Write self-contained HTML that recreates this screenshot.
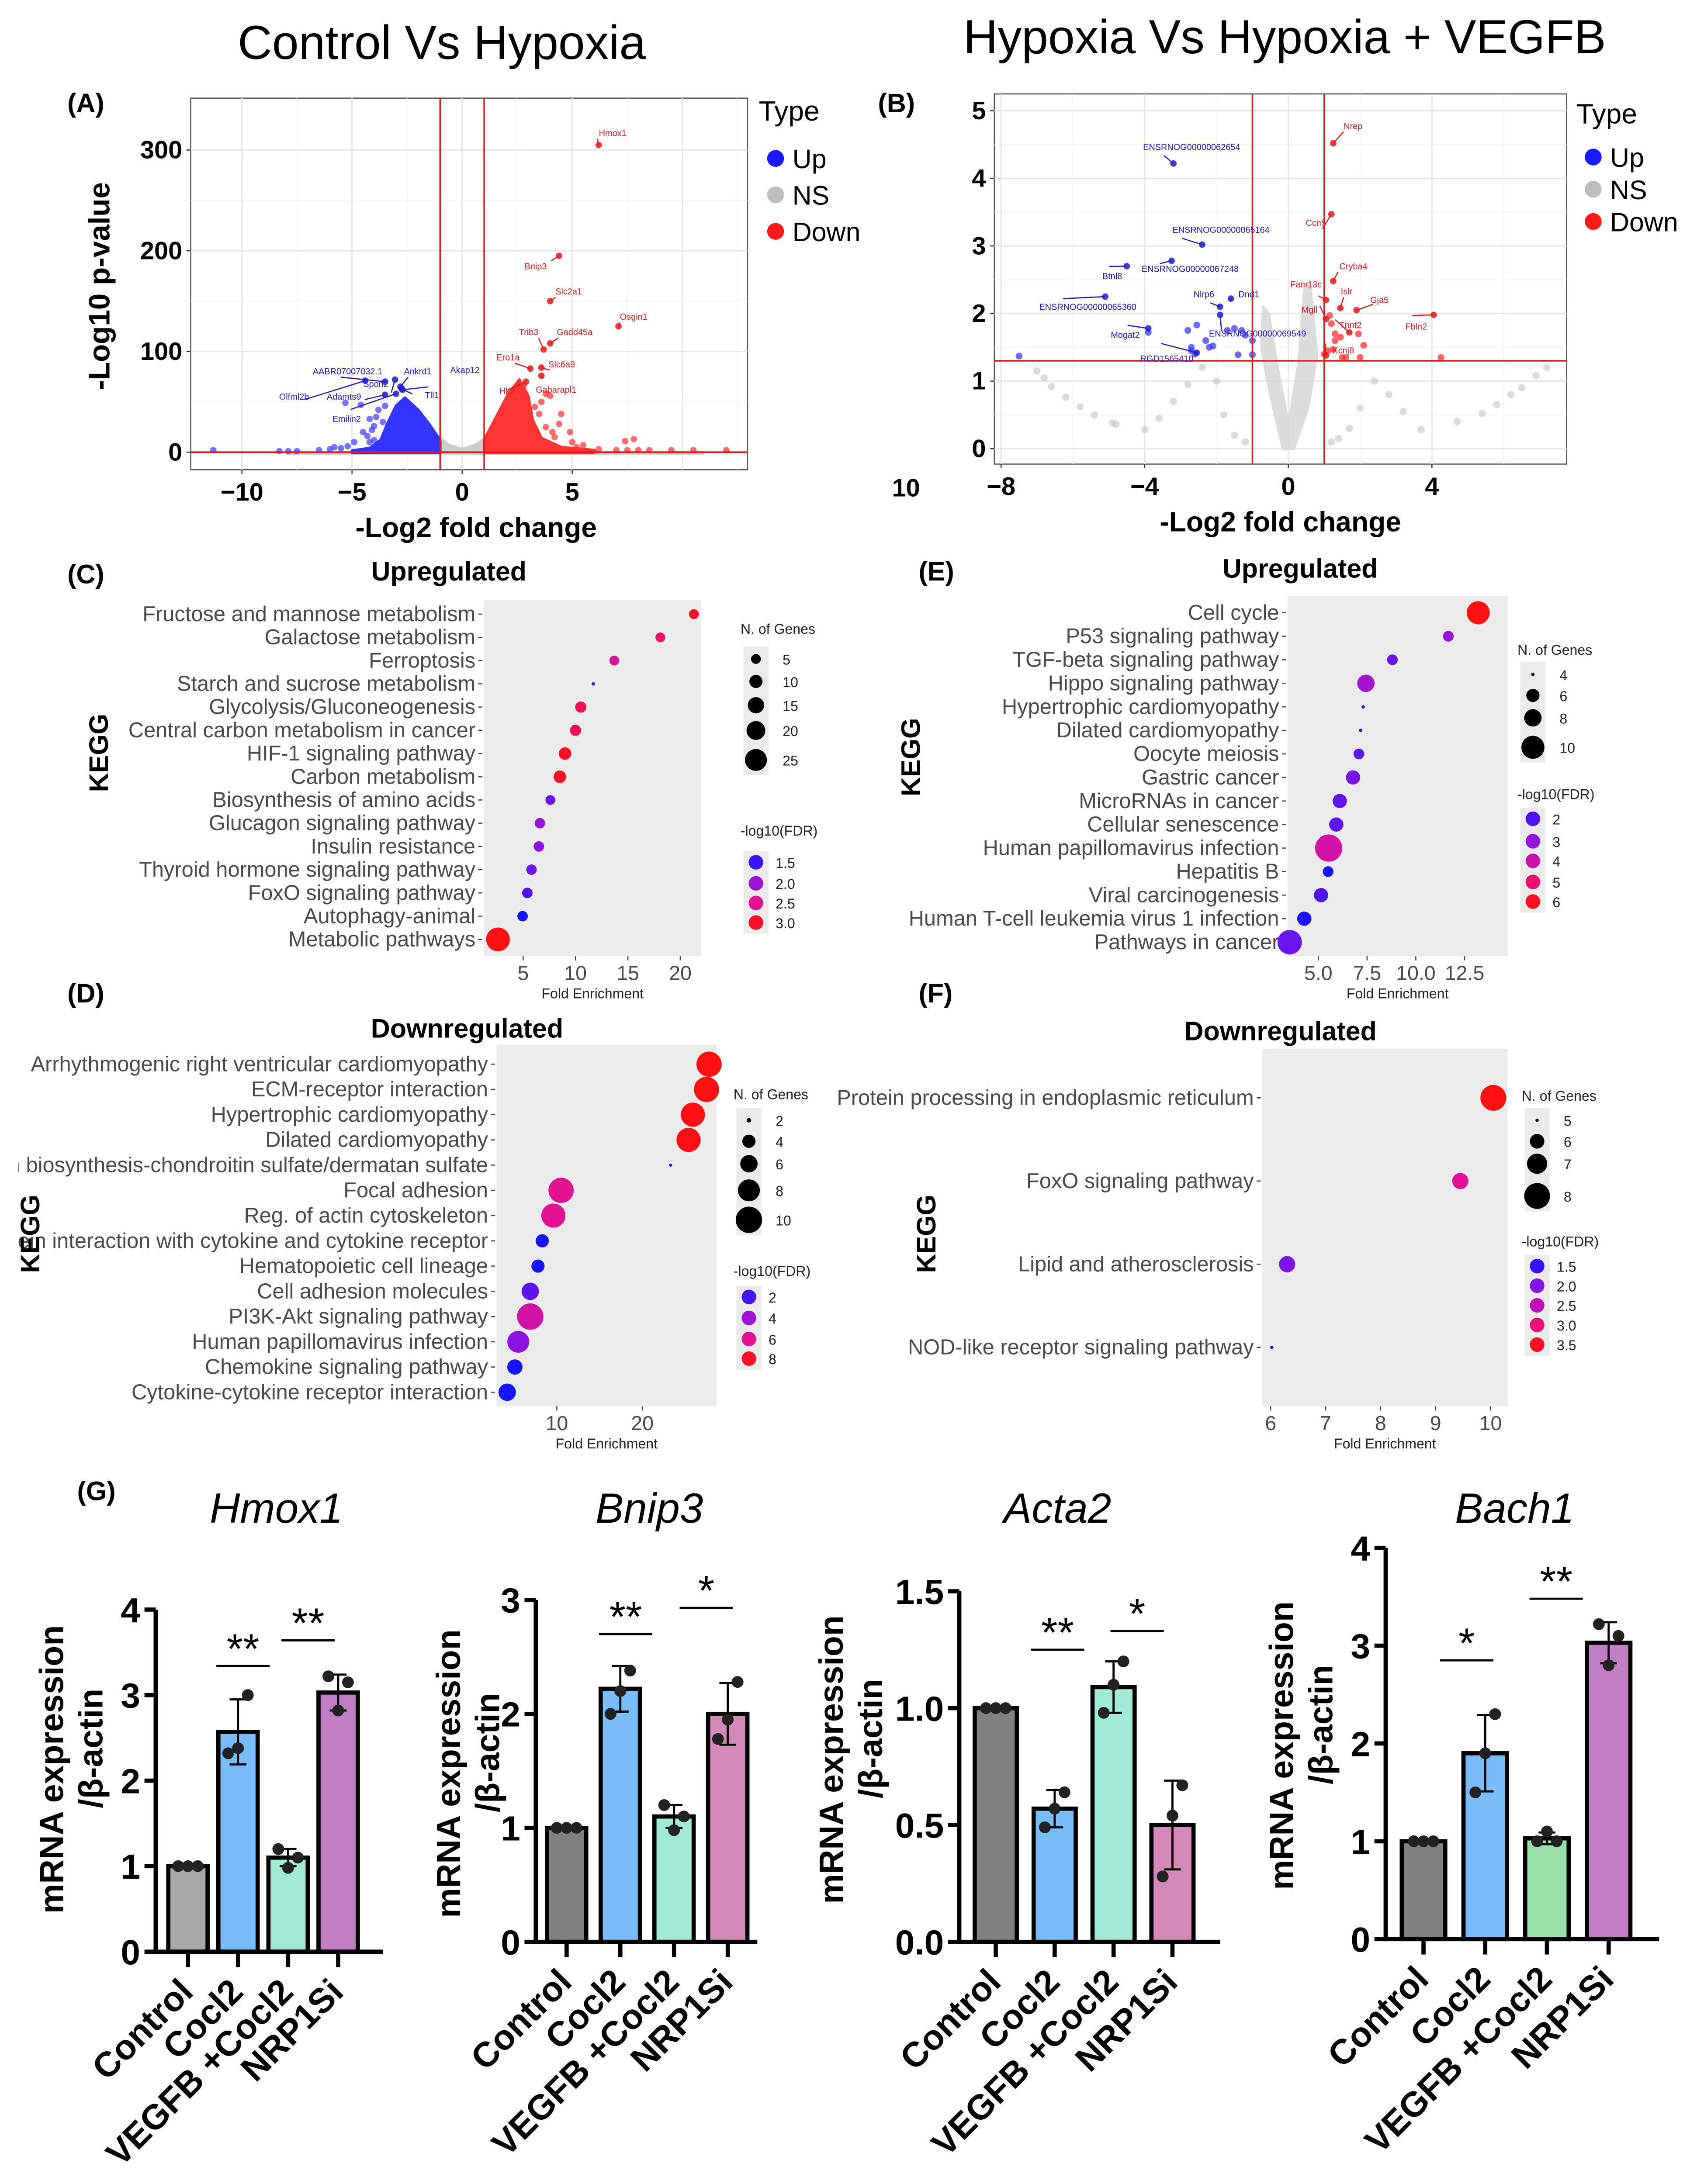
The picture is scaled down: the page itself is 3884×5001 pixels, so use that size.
<!DOCTYPE html>
<html><head><meta charset="utf-8">
<style>
html,body{margin:0;padding:0;background:#fff;width:3884px;height:5001px;overflow:hidden;}
svg{display:block;}
text{font-family:"Liberation Sans",Arial,sans-serif;}
</style></head>
<body>
<svg id="fig" xmlns="http://www.w3.org/2000/svg" width="3884" height="5001" viewBox="0 0 1210 1558">
<rect x="0" y="0" width="1210" height="1558" fill="#fff"/>
<defs><clipPath id="clipD"><rect x="13" y="700" width="520" height="320"/></clipPath></defs>
</svg>
<script>
// ---------- DATA ----------
const genesA = ['Hmox1','Bnip3','Slc2a1','Osgin1','Trib3','Gadd45a','Ero1a','Slc6a9','Gabarapl1','Hk2','Spon2','AABR07007032.1','Olfml2b','Adamts9','Ankrd1','Tll1','Akap12','Emilin2'];
const fcA = [6.2,4.4,4.0,7.1,3.7,4.0,3.1,3.6,3.6,2.9,-3.05,-3.5,-4.4,-3.5,-2.8,-2.75,-2.7,-3.0];
const pA = [305,195,150,125,102,108,83,84,76,70,72,70,71,57,65,63,62,58];
const upCloudA = [[-1,0],[-1,12],[-1.5,28],[-2,42],[-2.6,54],[-3.0,46],[-3.4,28],[-3.7,12],[-4.2,4],[-5,1.5],[-5,-0.5],[-1,-0.5]];
const downCloudA = [[1,0],[1,12],[1.5,33],[2.1,58],[2.6,72],[3.0,56],[3.2,32],[3.6,14],[4.5,5],[6,2],[6,-0.5],[1,-0.5]];
const nsCloudA = [[-1,14],[-0.6,7],[0,3],[0.6,7],[1,13],[1,-1],[-1,-1]];
const upOutA = [[-5.3,49],[-4.6,47],[-4.2,33],[-4.9,10],[-4.5,20],[-4.0,26],[-5.5,4],[-6,3],[-11.3,2],[-8.3,1],[-7.9,1],[-7.5,1],[-3.8,42],[-3.5,46],[-4.2,10],[-5.2,6],[-4.3,16],[-4.0,12],[-3.9,35],[-3.6,30],[-4.1,22],[-6.5,2],[-5.8,5]];
const downOutA = [[4.2,15],[5,10],[7.8,13],[7.4,11],[8.5,2],[9.5,2],[10.5,2],[12,2],[3.8,58],[4,56],[4.5,38],[2.8,66],[4.9,20],[5.5,7],[3.3,45],[3.5,38],[3.8,25],[4.1,20],[3.6,50],[4.4,28],[5.2,5],[6.2,3],[7,2],[7.5,2],[8,2]];
const genesB = ['ENSRNOG00000062654','ENSRNOG00000065164','ENSRNOG00000067248','Btnl8','ENSRNOG00000065360','Nlrp6','Dnd1','Mogat2','ENSRNOG00000069549','RGD1565410','Nrep','Ccn5','Cryba4','Fam13c','Islr','Gja5','Mgll','Tnnt2','Fbln2','Kcnj8'];
const fcB = [-3.2,-2.4,-3.25,-4.5,-5.1,-1.9,-1.6,-3.9,-1.9,-2.55,1.25,1.2,1.25,1.05,1.45,1.9,1.05,1.7,4.05,1.05];
const pB = [4.22,3.02,2.78,2.7,2.25,2.1,2.22,1.78,1.98,1.42,4.52,3.47,2.48,2.2,2.08,2.05,1.92,1.72,1.98,1.38];
const upOtherB = [[-3.9,1.72],[-2.8,1.75],[-2.55,1.83],[-2.7,1.5],[-2.7,1.45],[-2.6,1.4],[-2.3,1.6],[-2.2,1.5],[-2.1,1.52],[-1.7,1.75],[-1.5,1.78],[-1.3,1.75],[-1.2,1.68],[-1.4,1.39],[-1.0,1.6],[-1.0,1.39],[-7.5,1.37]];
const downOtherB = [[1.15,1.97],[1.2,1.85],[1.3,1.6],[1.45,1.65],[1.95,1.7],[2.1,1.53],[1.1,1.45],[1.25,1.47],[1.5,1.35],[1.6,1.35],[2.0,1.35],[4.25,1.35],[1.0,1.4],[1.3,1.7]];
const nsVB = [[-0.15,0],[-0.5,0.8],[-0.75,1.5],[-0.7,2.1],[-0.55,2.0],[-0.3,1.2],[-0.05,0.5],[0.05,0.5],[0.3,1.3],[0.45,2.4],[0.6,2.45],[0.8,1.4],[0.55,0.6],[0.15,0]];
const nsArmL = [[-7,1.15],[-6.8,1.05],[-6.6,0.92],[-6.2,0.76],[-5.8,0.62],[-5.4,0.5],[-4.9,0.38],[-4.8,0.36],[-4,0.28],[-3.6,0.45],[-3.2,0.7],[-2.8,0.95],[-2.4,1.2],[-2.0,1.0],[-1.8,0.5],[-1.5,0.2],[-1.2,0.1]];
const nsArmR = [[7.2,1.2],[6.9,1.08],[6.5,0.9],[6.2,0.8],[5.8,0.65],[5.4,0.52],[4.7,0.4],[3.7,0.28],[3.2,0.55],[2.8,0.8],[2.4,1.0],[2.0,0.6],[1.7,0.3],[1.4,0.15],[1.2,0.1]];
const termsC = ['Fructose and mannose metabolism','Galactose metabolism','Ferroptosis','Starch and sucrose metabolism','Glycolysis/Gluconeogenesis','Central carbon metabolism in cancer','HIF-1 signaling pathway','Carbon metabolism','Biosynthesis of amino acids','Glucagon signaling pathway','Insulin resistance','Thyroid hormone signaling pathway','FoxO signaling pathway','Autophagy-animal','Metabolic pathways'];
const foldC = [21.3,18.1,13.7,11.7,10.5,10.0,9.0,8.5,7.6,6.6,6.5,5.8,5.4,4.95,2.6];
const genesC = [5,5,5,1,7,7,9,9,5,6,6,6,6,6,28];
const fdrC = [3.0,2.7,2.45,1.5,2.8,2.8,3.0,3.0,1.7,1.95,1.9,1.75,1.6,1.3,3.1];
const ticksC = [5,10,15,20];
const sizeLegC = [5,10,15,20,25];
const colLegC = [1.5,2.0,2.5,3.0];
const termsD = ['Arrhythmogenic right ventricular cardiomyopathy','ECM-receptor interaction','Hypertrophic cardiomyopathy','Dilated cardiomyopathy','Glycosaminoglycan biosynthesis-chondroitin sulfate/dermatan sulfate','Focal adhesion','Reg. of actin cytoskeleton','Viral protein interaction with cytokine and cytokine receptor','Hematopoietic cell lineage','Cell adhesion molecules','PI3K-Akt signaling pathway','Human papillomavirus infection','Chemokine signaling pathway','Cytokine-cytokine receptor interaction'];
const foldD = [27.8,27.5,25.9,25.4,23.3,10.5,9.6,8.3,7.8,6.9,6.9,5.5,5.1,4.2];
const genesD = [9.5,9.5,9,9,1,9.5,9,4,4,6,10,8,5,6];
const fdrD = [8.5,8.5,8.4,8.4,1.5,6,6,1,1,2.5,5.5,3.5,1,1];
const ticksD = [10,20];
const sizeLegD = [2,4,6,8,10];
const colLegD = [2,4,6,8];
const termsE = ['Cell cycle','P53 signaling pathway','TGF-beta signaling pathway','Hippo signaling pathway','Hypertrophic cardiomyopathy','Dilated cardiomyopathy','Oocyte meiosis','Gastric cancer','MicroRNAs in cancer','Cellular senescence','Human papillomavirus infection','Hepatitis B','Viral carcinogenesis','Human T-cell leukemia virus 1 infection','Pathways in cancer'];
const foldE = [13.2,11.67,8.8,7.44,7.3,7.17,7.08,6.78,6.1,5.92,5.53,5.5,5.14,4.28,3.53];
const genesE = [10,5.5,5.5,8,4,4,5.5,6.5,6.5,6.5,11.5,5.5,6.5,6.5,10.5];
const fdrE = [6.2,3.0,2.4,3.3,1.2,1.2,2.2,2.6,2.2,2.2,4.2,1.2,2.0,1.3,2.4];
const ticksE = [5.0,7.5,10.0,12.5];
const sizeLegE = [4,6,8,10];
const colLegE = [2,3,4,5,6];
const termsF = ['Protein processing in endoplasmic reticulum','FoxO signaling pathway','Lipid and atherosclerosis','NOD-like receptor signaling pathway'];
const foldF = [10.05,9.45,6.3,6.02];
const genesF = [8,6.3,6.3,5];
const fdrF = [3.6,2.8,1.95,1.3];
const ticksF = [6,7,8,9,10];
const sizeLegF = [5,6,7,8];
const colLegF = [1.5,2.0,2.5,3.0,3.5];
const groups = ['Control','Cocl2','VEGFB +Cocl2','NRP1Si'];
const hmoxMean = [1.0,2.57,1.1,3.03];
const hmoxSd = [0.0,0.38,0.1,0.21];
const hmoxPts = [[1,1,1],[2.32,2.38,3.0],[1.2,0.98,1.1],[3.22,2.82,3.15]];
const bnipMean = [1.0,2.22,1.1,2.0];
const bnipSd = [0.0,0.2,0.1,0.27];
const bnipPts = [[1,1,1],[2.0,2.2,2.38],[1.2,0.98,1.1],[1.78,1.95,2.28]];
const actaMean = [1.0,0.57,1.09,0.5];
const actaSd = [0.0,0.08,0.11,0.19];
const actaPts = [[1,1,1],[0.49,0.57,0.64],[0.98,1.1,1.2],[0.28,0.54,0.67]];
const bachMean = [1.0,1.9,1.03,3.03];
const bachSd = [0.0,0.39,0.06,0.21];
const bachPts = [[1,1,1],[1.5,1.9,2.3],[1.0,1.1,1.0],[3.22,2.8,3.1]];
const hmoxTicks = [0,1,2,3,4];
const bnipTicks = [0,1,2,3];
const actaTicks = [0,0.5,1.0,1.5];
const bachTicks = [0,1,2,3,4];
const hmoxSig = [['**',3.34,1.1],['**',3.64,2.4]];
const bnipSig = [['**',2.7,1.1],['*',2.93,2.6]];
const actaSig = [['**',1.25,1.05],['*',1.33,2.4]];
const bachSig = [['*',2.85,0.7],['**',3.48,2.15]];

// ---------- HELPERS ----------
const NS='http://www.w3.org/2000/svg';
const svg=document.getElementById('fig');
function mk(tag, attrs, name, parent){
  const el=document.createElementNS(NS,tag);
  for(const k in attrs) el.setAttribute(k, attrs[k]);
  
  
  (parent||svg).appendChild(el);
  return el;
}
function txt(x,y,s,o,name,parent){
  const a={x:x,y:y,'font-size':o.fs||12,fill:o.fill||'#000'};
  if(o.anchor) a['text-anchor']=o.anchor;
  if(o.bold) a['font-weight']='bold';
  if(o.italic) a['font-style']='italic';
  if(o.rot!==undefined) a.transform='rotate('+o.rot+' '+x+' '+y+')';
  const t=mk('text',a,name,parent);
  t.textContent=s;
  return t;
}
function lerp(a,b,t){return a+(b-a)*t;}
const STOPS=[[0,[20,20,255]],[0.33,[140,20,225]],[0.66,[225,18,150]],[1,[255,16,16]]];
function col(v,lo,hi){
  let t=(v-lo)/(hi-lo); t=Math.max(0,Math.min(1,t));
  for(let i=1;i<STOPS.length;i++){
    if(t<=STOPS[i][0]){
      const u=(t-STOPS[i-1][0])/(STOPS[i][0]-STOPS[i-1][0]);
      const c=STOPS[i-1][1].map((c0,j)=>Math.round(lerp(c0,STOPS[i][1][j],u)));
      return 'rgb('+c.join(',')+')';
    }
  }
  return 'rgb(255,16,16)';
}

txt(315,42,'Control Vs Hypoxia',{fs:34,anchor:'middle'},'title-control-vs-hypoxia');
txt(916,38,'Hypoxia Vs Hypoxia + VEGFB',{fs:34,anchor:'middle'},'title-hypoxia-vs-vegfb');
[['(A)',48,80],['(B)',626,80],['(C)',48,416],['(D)',48,715],['(E)',655,414],['(F)',655,715],['(G)',55,1070]].forEach(p=>{
  txt(p[1],p[2],p[0],{fs:19,bold:true},'panel-label');
});

function volcano(cfg){
  const g=mk('g',{},cfg.name);
  const X=v=>cfg.x0+v*cfg.xu, Y=v=>cfg.y0-v*cfg.yu;
  mk('rect',{x:cfg.L,y:cfg.T,width:cfg.R-cfg.L,height:cfg.B-cfg.T,fill:'#fff',stroke:'#555','stroke-width':0.8},'plot-area',g);
  cfg.minorX.forEach(v=>mk('line',{x1:X(v),x2:X(v),y1:cfg.T,y2:cfg.B,stroke:'#f3f3f3','stroke-width':0.6},'grid-minor',g));
  cfg.minorY.forEach(v=>mk('line',{x1:cfg.L,x2:cfg.R,y1:Y(v),y2:Y(v),stroke:'#f3f3f3','stroke-width':0.6},'grid-minor',g));
  cfg.majorX.forEach(v=>mk('line',{x1:X(v),x2:X(v),y1:cfg.T,y2:cfg.B,stroke:'#e6e6e6','stroke-width':1},'grid-major',g));
  cfg.majorY.forEach(v=>mk('line',{x1:cfg.L,x2:cfg.R,y1:Y(v),y2:Y(v),stroke:'#e6e6e6','stroke-width':1},'grid-major',g));
  const poly=(arr,fill,op,name)=>mk('polygon',{points:arr.map(p=>X(p[0])+','+Y(p[1])).join(' '),fill:fill,opacity:op,stroke:fill,'stroke-width':2,'stroke-linejoin':'round'},name,g);
  cfg.draw(g,X,Y,poly);
  mk('line',{x1:X(-1),x2:X(-1),y1:cfg.T,y2:cfg.B,stroke:'#e41a1a','stroke-width':1.1},'threshold-line-left',g);
  mk('line',{x1:X(1),x2:X(1),y1:cfg.T,y2:cfg.B,stroke:'#e41a1a','stroke-width':1.1},'threshold-line-right',g);
  mk('line',{x1:cfg.L,x2:cfg.R,y1:Y(cfg.hline),y2:Y(cfg.hline),stroke:'#e41a1a','stroke-width':1.1},'threshold-line-p',g);
  cfg.genes.forEach((n,i)=>{
    const px=X(cfg.fc[i]),py=Y(cfg.p[i]);
    const c=cfg.fc[i]<0?'#1c1cc8':'#e31a1a';
    const lp=cfg.lab[i];
    mk('line',{x1:px,y1:py,x2:lp[2],y2:lp[3],stroke:c,'stroke-width':0.8},'label-connector',g);
    mk('circle',{cx:px,cy:py,r:2.3,fill:c,opacity:0.85},'gene-point',g);
    txt(lp[0],lp[1],n,{fs:6.2,fill:c},'gene-label',g);
  });
  cfg.xt.forEach(v=>{
    mk('line',{x1:X(v),x2:X(v),y1:cfg.B,y2:cfg.B+3,stroke:'#333','stroke-width':0.8},'x-tick',g);
    txt(X(v),cfg.B+22,(v<0?'\u2212':'')+Math.abs(v),{fs:18,bold:true,anchor:'middle'},'x-tick-label',g);
  });
  cfg.yt.forEach(v=>{
    mk('line',{x1:cfg.L-3,x2:cfg.L,y1:Y(v),y2:Y(v),stroke:'#333','stroke-width':0.8},'y-tick',g);
    txt(cfg.L-6,Y(v)+6,String(v),{fs:18,bold:true,anchor:'end'},'y-tick-label',g);
  });
  txt((cfg.L+cfg.R)/2+cfg.xtOff,cfg.B+48,'-Log2 fold change',{fs:20,bold:true,anchor:'middle'},'x-axis-title',g);
  const lg=cfg.leg;
  txt(lg[0],lg[1],'Type',{fs:20},'legend-title',g);
  [['Up','#1a1aff'],['NS','#bdbdbd'],['Down','#ff1a1a']].forEach((e,i)=>{
    const yy=lg[1]+lg[2]+i*lg[3];
    mk('circle',{cx:lg[0]+12,cy:yy,r:6,fill:e[1]},'legend-swatch',g);
    txt(lg[0]+24,yy+7,e[0],{fs:19},'legend-entry',g);
  });
  return g;
}
volcano({name:'volcano-a',L:136,R:533,T:70,B:335,x0:329.5,xu:15.7,y0:322.5,yu:0.7183,hline:0,
  majorX:[-10,-5,0,5,10],minorX:[-12.5,-7.5,-2.5,2.5,7.5,12.5],majorY:[0,100,200,300],minorY:[50,150,250],
  xt:[-10,-5,0,5],yt:[0,100,200,300],xtOff:5,leg:[541,86,27,26],
  genes:genesA,fc:fcA,p:pA,
  lab:[[427,97,426,99],[374,192,393,186],[396,210,396,212],[442,228,442,230],[370,239,384,241],[397,239,398,241],[354,257,367,259],[391,262,392,264],[382,280,387,270],[356,281,362,278],[259,276,279,280],[223,267,243,269],[199,285,217,285],[233,285,260,285],[288,267,291,269],[303,284,294,281],[321,266,305,276],[237,301,250,292]],
  draw:(g,X,Y,poly)=>{
    poly(nsCloudA,'#c8c8c8',0.9,'ns-cloud');
    mk('rect',{x:X(-8),y:Y(1.5),width:X(11)-X(-8),height:3,fill:'#cfcfcf'},'ns-baseline',g);
    poly(upCloudA,'#1f1fff',0.9,'up-cloud');
    poly(downCloudA,'#ff2020',0.9,'down-cloud');
    upOutA.forEach(p=>mk('circle',{cx:X(p[0]),cy:Y(p[1]),r:2.3,fill:'#3a3aff',opacity:0.7},'up-point',g));
    downOutA.forEach(p=>mk('circle',{cx:X(p[0]),cy:Y(p[1]),r:2.3,fill:'#ff3030',opacity:0.7},'down-point',g));
  }});
txt(78,204,'-Log10 p-value',{fs:21,bold:true,anchor:'middle',rot:-90},'y-axis-title-a');
txt(646,354,'10',{fs:18,bold:true,anchor:'middle'},'stray-tick-label');
volcano({name:'volcano-b',L:709,R:1117,T:67,B:331,x0:918.6,xu:25.6,y0:320,yu:48.2,hline:1.3,
  majorX:[-8,-4,0,4],minorX:[-6,-2,2,6],majorY:[0,1,2,3,4,5],minorY:[0.5,1.5,2.5,3.5,4.5],
  xt:[-8,-4,0,4],yt:[0,1,2,3,4,5],xtOff:0,leg:[1124,88,24,23],
  genes:genesB,fc:fcB,p:pB,
  lab:[[815,107,830,111],[836,166,843,170],[814,194,827,188],[786,199,791,190],[741,221,758,213],[851,212,863,216],[883,212,878,214],[792,241,804,232],[862,240,871,236],[813,258,828,245],[958,92,958,94],[931,161,943,163],[955,192,954,194],[920,205,940,211],[956,210,958,212],[977,216,979,217],[928,223,941,218],[955,234,952,228],[1002,235,1007,225],[950,252,945,245]],
  draw:(g,X,Y,poly)=>{
    nsArmL.concat(nsArmR).forEach(p=>mk('circle',{cx:X(p[0]),cy:Y(p[1]),r:2.6,fill:'#bdbdbd',opacity:0.55},'ns-point',g));
    poly(nsVB,'#d6d6d6',0.85,'ns-cloud');
    upOtherB.forEach(p=>mk('circle',{cx:X(p[0]),cy:Y(p[1]),r:2.4,fill:'#3a3aff',opacity:0.75},'up-point',g));
    downOtherB.forEach(p=>mk('circle',{cx:X(p[0]),cy:Y(p[1]),r:2.4,fill:'#ff3030',opacity:0.75},'down-point',g));
  }});

function dotplot(cfg){
  const g=mk('g',{},cfg.name);
  const lblG=mk('g',cfg.clip?{'clip-path':'url(#'+cfg.clip+')'}:{},'term-labels',g);
  const X=v=>cfg.xp0+(v-cfg.xv0)*cfg.xu;
  const n=cfg.terms.length;
  const rowY=i=>cfg.r0+i*(cfg.r1-cfg.r0)/(n-1);
  const R=v=>{const s=cfg.sl,r=cfg.sr;let k=0;while(k<s.length-2&&v>s[k+1])k++;
    return Math.max(1.1,r[k]+(v-s[k])*(r[k+1]-r[k])/(s[k+1]-s[k]));};
  mk('rect',{x:cfg.L,y:cfg.T,width:cfg.R-cfg.L,height:cfg.B-cfg.T,fill:'#ebebeb'},'plot-panel',g);
  cfg.terms.forEach((t,i)=>{
    mk('line',{x1:cfg.L-4,x2:cfg.L-1,y1:rowY(i),y2:rowY(i),stroke:'#444','stroke-width':0.8},'y-tick',g);
    txt(cfg.L-6,rowY(i)+5,t,{fs:cfg.fs||15.2,fill:'#4a4a4a',anchor:'end'},'term-label',lblG);
  });
  cfg.fold.forEach((v,i)=>{
    mk('circle',{cx:X(v),cy:rowY(i),r:R(cfg.genes[i]),fill:col(cfg.fdr[i],cfg.clo,cfg.chi)},'enrichment-dot',g);
  });
  cfg.ticks.forEach(v=>{
    mk('line',{x1:X(v),x2:X(v),y1:cfg.B,y2:cfg.B+3,stroke:'#444','stroke-width':0.8},'x-tick',g);
    txt(X(v),cfg.B+17,cfg.dec?v.toFixed(1):String(v),{fs:14.5,fill:'#4a4a4a',anchor:'middle'},'x-tick-label',g);
  });
  txt((cfg.L+cfg.R)/2,cfg.B+30,'Fold Enrichment',{fs:10,anchor:'middle',fill:'#222'},'x-axis-title',g);
  txt(cfg.titleX,cfg.titleY,cfg.title,{fs:19,bold:true,anchor:'middle'},'panel-title',g);
  txt(cfg.keggX,cfg.keggY,'KEGG',{fs:19,bold:true,anchor:'middle',rot:-90},'y-axis-title',g);
  const lg=cfg.lg;
  txt(lg[0],lg[1],'N. of Genes',{fs:10,fill:'#222'},'size-legend-title',g);
  const sRows=lg[2];
  mk('rect',{x:lg[0]+2,y:sRows[0]-9,width:18,height:sRows[sRows.length-1]-sRows[0]+20,fill:'#ebebeb'},'size-legend-key',g);
  cfg.sizeLeg.forEach((v,i)=>{
    mk('circle',{cx:lg[0]+11,cy:sRows[i],r:R(v),fill:'#000'},'size-legend-dot',g);
    txt(lg[0]+30,sRows[i]+4,String(v),{fs:10,fill:'#222'},'size-legend-label',g);
  });
  txt(lg[0],lg[3],'-log10(FDR)',{fs:10,fill:'#222'},'color-legend-title',g);
  const cRows=lg[4];
  mk('rect',{x:lg[0]+2,y:cRows[0]-8,width:18,height:cRows[cRows.length-1]-cRows[0]+16,fill:'#ebebeb'},'color-legend-key',g);
  cfg.colLeg.forEach((v,i)=>{
    mk('circle',{cx:lg[0]+11,cy:cRows[i],r:5.2,fill:col(v,cfg.clo,cfg.chi)},'color-legend-dot',g);
    txt(lg[0]+25,cRows[i]+4,cfg.cdec?v.toFixed(1):String(v),{fs:10,fill:'#222'},'color-legend-label',g);
  });
}
dotplot({name:'dotplot-c-up',terms:termsC,fold:foldC,genes:genesC,fdr:fdrC,ticks:ticksC,sizeLeg:sizeLegC,colLeg:colLegC,cdec:true,
  L:345,R:500,T:428,B:682,xp0:373,xv0:5,xu:7.47,r0:438,r1:670,sl:[1,5,10,15,20,25],sr:[1.2,3.5,4.7,5.8,6.7,7.8],clo:1.3,chi:3.1,
  titleX:320,titleY:414,title:'Upregulated',keggX:77,keggY:537,
  lg:[528,452,[470,486,503,521,542],596,[615,630,644,658]]});
dotplot({name:'dotplot-d-down',clip:'clipD',terms:termsD,fold:foldD,genes:genesD,fdr:fdrD,ticks:ticksD,sizeLeg:sizeLegD,colLeg:colLegD,
  L:354,R:511,T:745,B:1003,xp0:397,xv0:10,xu:6.1,r0:759,r1:993,sl:[1,2,4,6,8,10],sr:[1.1,1.6,4.7,6.2,7.8,9.4],clo:1,chi:8.5,
  titleX:333,titleY:740,title:'Downregulated',keggX:28,keggY:880,
  lg:[523,784,[799,814,830,849,870],910,[925,940,955,969]]});
dotplot({name:'dotplot-e-up',terms:termsE,fold:foldE,genes:genesE,fdr:fdrE,ticks:ticksE,sizeLeg:sizeLegE,colLeg:colLegE,dec:true,
  L:918,R:1075,T:425,B:682,xp0:940,xv0:5,xu:13.9,r0:437,r1:672,sl:[4,6,8,10],sr:[1.2,4.7,6.2,8.2],clo:1.2,chi:6.2,
  titleX:927,titleY:412,title:'Upregulated',keggX:656,keggY:540,
  lg:[1082,467,[481,496,512,533],570,[584,600,614,629,643]]});
dotplot({name:'dotplot-f-down',terms:termsF,fold:foldF,genes:genesF,fdr:fdrF,ticks:ticksF,sizeLeg:sizeLegF,colLeg:colLegF,cdec:true,
  L:900,R:1075,T:748,B:1003,xp0:906,xv0:6,xu:39.2,r0:783,r1:961,sl:[5,6,7,8],sr:[1.2,5.2,7.2,9.2],clo:1.3,chi:3.6,
  titleX:913,titleY:742,title:'Downregulated',keggX:667,keggY:880,
  lg:[1085,785,[799,814,830,853],889,[903,917,931,945,959]]});

function bars(cfg){
  const g=mk('g',{},cfg.name);
  const Y=v=>cfg.y0-v*cfg.yu;
  const cx=i=>cfg.ax+cfg.first+i*cfg.sp;
  cfg.mean.forEach((m,i)=>{
    mk('rect',{x:cx(i)-cfg.bw/2,y:Y(m),width:cfg.bw,height:Y(0)-Y(m),fill:cfg.colors[i],stroke:'#000','stroke-width':3},'bar-'+groups[i].toLowerCase().replace(/[^a-z0-9]+/g,'-'),g);
  });
  cfg.mean.forEach((m,i)=>{
    const s=cfg.sd[i];
    if(s>0){
      mk('line',{x1:cx(i),x2:cx(i),y1:Y(m-s),y2:Y(m+s),stroke:'#000','stroke-width':1.5},'error-bar',g);
      mk('line',{x1:cx(i)-6,x2:cx(i)+6,y1:Y(m+s),y2:Y(m+s),stroke:'#000','stroke-width':1.5},'error-cap',g);
      mk('line',{x1:cx(i)-6,x2:cx(i)+6,y1:Y(m-s),y2:Y(m-s),stroke:'#000','stroke-width':1.5},'error-cap',g);
    }
    cfg.pts[i].forEach((v,j)=>mk('circle',{cx:cx(i)+(j-1)*7,cy:Y(v),r:4.2,fill:'#222'},'replicate-point',g));
  });
  mk('line',{x1:cfg.ax,x2:cfg.ax,y1:Y(cfg.ticks[cfg.ticks.length-1]),y2:cfg.y0+1.5,stroke:'#000','stroke-width':3},'y-axis',g);
  mk('line',{x1:cfg.ax-1.5,x2:cfg.xe,y1:cfg.y0,y2:cfg.y0,stroke:'#000','stroke-width':3},'x-axis',g);
  cfg.ticks.forEach(v=>{
    mk('line',{x1:cfg.ax-8,x2:cfg.ax,y1:Y(v),y2:Y(v),stroke:'#000','stroke-width':3},'y-tick',g);
    txt(cfg.ax-11,Y(v)+9,cfg.dec?v.toFixed(1):String(v),{fs:25,bold:true,anchor:'end'},'y-tick-label',g);
  });
  groups.forEach((n,i)=>{
    mk('line',{x1:cx(i),x2:cx(i),y1:cfg.y0,y2:cfg.y0+11,stroke:'#000','stroke-width':3},'x-tick',g);
    txt(cx(i)+5,cfg.y0+30,n,{fs:25,bold:true,anchor:'end',rot:-45},'x-tick-label',g);
  });
  cfg.sig.forEach(s=>{
    const c=cfg.ax+cfg.first+s[2]*cfg.sp;
    mk('line',{x1:c-19,x2:c+19,y1:Y(s[1]),y2:Y(s[1]),stroke:'#000','stroke-width':1.5},'significance-line',g);
    txt(c,Y(s[1])-2,s[0],{fs:30,anchor:'middle'},'significance-stars',g);
  });
  txt(cfg.tx,1086,cfg.title,{fs:30,italic:true,anchor:'middle'},'chart-title',g);
  txt(cfg.yx,cfg.yy,'mRNA  expression',{fs:24,bold:true,anchor:'middle',rot:-90},'y-axis-title',g);
  txt(cfg.yx+28,cfg.yy-15,'/\u03b2-actin',{fs:24,bold:true,anchor:'middle',rot:-90},'y-axis-title-2',g);
}
bars({name:'bar-chart-hmox1',title:'Hmox1',tx:197,mean:hmoxMean,sd:hmoxSd,pts:hmoxPts,ticks:hmoxTicks,sig:hmoxSig,
  colors:['#a8a8ab','#78bcf8','#a2ead8','#c07fc3'],ax:111,first:23,sp:35.7,bw:28,xe:273,y0:1392,yu:61,yx:45,yy:1262});
bars({name:'bar-chart-bnip3',title:'Bnip3',tx:463,mean:bnipMean,sd:bnipSd,pts:bnipPts,ticks:bnipTicks,sig:bnipSig,
  colors:['#808080','#78bcf8','#a2ead8','#d48ab8'],ax:382,first:22,sp:38.3,bw:28,xe:540,y0:1385,yu:81.3,yx:328,yy:1265});
bars({name:'bar-chart-acta2',title:'Acta2',tx:754,mean:actaMean,sd:actaSd,pts:actaPts,ticks:actaTicks,sig:actaSig,dec:true,
  colors:['#808080','#78bcf8','#a2ead8','#d48ab8'],ax:684,first:26,sp:42,bw:30,xe:870,y0:1385,yu:166.7,yx:601,yy:1255});
bars({name:'bar-chart-bach1',title:'Bach1',tx:1080,mean:bachMean,sd:bachSd,pts:bachPts,ticks:bachTicks,sig:bachSig,
  colors:['#808080','#78bcf8','#98e0a8','#c07fc3'],ax:988,first:27,sp:44,bw:31,xe:1183,y0:1383,yu:69.75,yx:922,yy:1245});
</script>
</body></html>
